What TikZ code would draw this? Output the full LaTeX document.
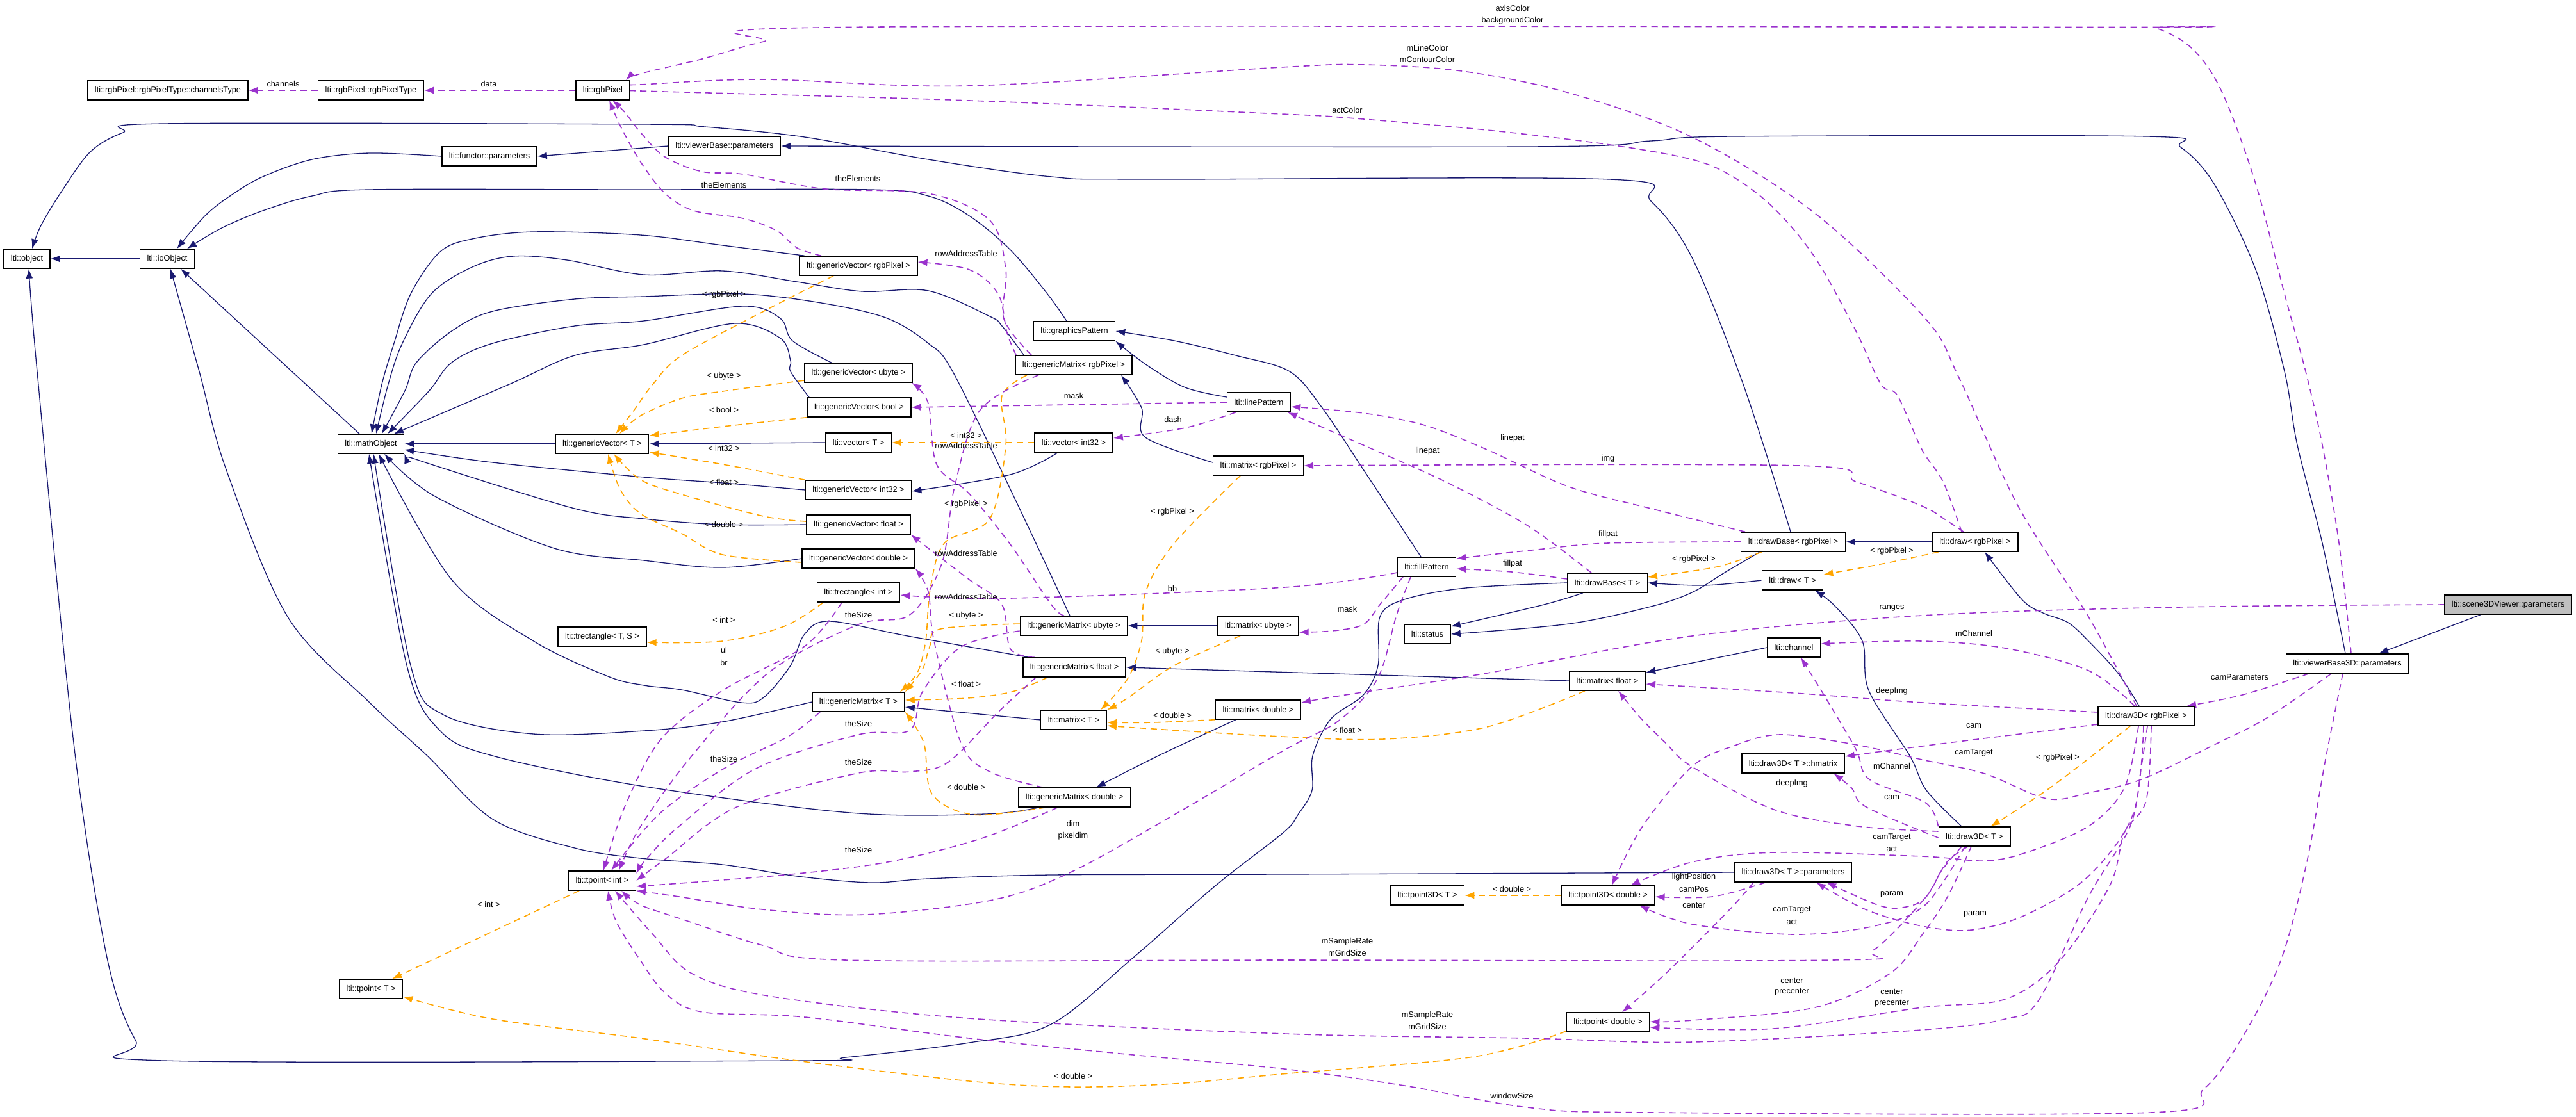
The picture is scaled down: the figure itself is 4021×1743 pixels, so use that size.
\documentclass[tikz,border=0pt]{standalone}
\usepackage{fontspec}
\setmainfont{Liberation Sans}
\usetikzlibrary{arrows.meta}
\definecolor{inhc}{HTML}{191970}
\definecolor{usec}{HTML}{9A32CD}
\definecolor{tplc}{HTML}{FFA500}
\newcommand\dxfont{\fontsize{12.7}{14}\selectfont}
\newcommand\sedge[2]{\draw[#1] plot[smooth,tension=0.55] coordinates {#2};}
\pgfdeclarelayer{edgelayer}
\pgfsetlayers{edgelayer,main}
\tikzset{
 cls/.style={draw=black,line width=1.4pt,fill=white,minimum height=30pt,inner xsep=11pt,inner ysep=0pt,font=\dxfont},
 lbl/.style={inner sep=0pt,font=\dxfont},
 inhe/.style={draw=inhc,line width=1.3pt,-{Latex[length=15pt,width=11pt]}},
 usee/.style={draw=usec,line width=1.6pt,dash pattern=on 10pt off 7pt,-{Latex[length=15pt,width=11pt]}},
 tple/.style={draw=tplc,line width=1.6pt,dash pattern=on 10pt off 7pt,-{Latex[length=15pt,width=11pt]}},
}
\begin{document}
\begin{tikzpicture}[x=1pt,y=-1pt]
\useasboundingbox (0,0) rectangle (4021,1743);
% ---------- nodes
\node[cls] (chan) at (262,141) {lti::rgbPixel::rgbPixelType::channelsType};
\node[cls] (rgbtype) at (579,141) {lti::rgbPixel::rgbPixelType};
\node[cls] (rgbpix) at (941,141) {lti::rgbPixel};
\node[cls] (funcpar) at (764,244) {lti::functor::parameters};
\node[cls] (object) at (42,404) {lti::object};
\node[cls] (ioobj) at (261,404) {lti::ioObject};
\node[cls] (vbpar) at (1131,228) {lti::viewerBase::parameters};
\node[cls] (gvrgb) at (1340,415) {lti::genericVector< rgbPixel >};
\node[cls] (gpat) at (1677,517) {lti::graphicsPattern};
\node[cls] (gmrgb) at (1676,570) {lti::genericMatrix< rgbPixel >};
\node[cls] (gvubyte) at (1340,582) {lti::genericVector< ubyte >};
\node[cls] (mathobj) at (579,693) {lti::mathObject};
\node[cls] (gvT) at (940,693) {lti::genericVector< T >};
\node[cls] (trectTS) at (940,994) {lti::trectangle< T, S >};
\node[cls] (gvbool) at (1341,636) {lti::genericVector< bool >};
\node[cls] (vecT) at (1340,691) {lti::vector< T >};
\node[cls] (vecint) at (1676,691) {lti::vector< int32 >};
\node[cls] (linepat) at (1965,628) {lti::linePattern};
\node[cls] (mrgb) at (1964,727) {lti::matrix< rgbPixel >};
\node[cls] (gvint) at (1340,765) {lti::genericVector< int32 >};
\node[cls] (gvfloat) at (1340,819) {lti::genericVector< float >};
\node[cls] (gvdouble) at (1340,872) {lti::genericVector< double >};
\node[cls] (trectint) at (1340,925) {lti::trectangle< int >};
\node[cls] (gmubyte) at (1676,977) {lti::genericMatrix< ubyte >};
\node[cls] (mubyte) at (1964,977) {lti::matrix< ubyte >};
\node[cls] (gmfloat) at (1677,1042) {lti::genericMatrix< float >};
\node[cls] (gmT) at (1340,1096) {lti::genericMatrix< T >};
\node[cls] (mT) at (1676,1124) {lti::matrix< T >};
\node[cls] (mdouble) at (1964,1108) {lti::matrix< double >};
\node[cls] (dbrgb) at (2799,846) {lti::drawBase< rgbPixel >};
\node[cls] (fillpat) at (2227,885) {lti::fillPattern};
\node[cls] (dbT) at (2509,910) {lti::drawBase< T >};
\node[cls] (drawT) at (2798,906) {lti::draw< T >};
\node[cls] (status) at (2228,990) {lti::status};
\node[cls] (channel) at (2800,1011) {lti::channel};
\node[cls] (mfloat) at (2509,1063) {lti::matrix< float >};
\node[cls] (drawrgb) at (3083,846) {lti::draw< rgbPixel >};
\node[cls,fill=gray!50] (scene) at (3915,944) {lti::scene3DViewer::parameters};
\node[cls] (vb3dpar) at (3664,1036) {lti::viewerBase3D::parameters};
\node[cls] (d3rgb) at (3350,1118) {lti::draw3D< rgbPixel >};
\node[cls] (tpint) at (940,1375) {lti::tpoint< int >};
\node[cls] (tpT) at (579,1544) {lti::tpoint< T >};
\node[cls] (gmdouble) at (1677,1245) {lti::genericMatrix< double >};
\node[cls] (hmatrix) at (2799,1192) {lti::draw3D< T >::hmatrix};
\node[cls] (d3par) at (2799,1362) {lti::draw3D< T >::parameters};
\node[cls] (tp3T) at (2228,1398) {lti::tpoint3D< T >};
\node[cls] (tp3d) at (2510,1398) {lti::tpoint3D< double >};
\node[cls] (tpdouble) at (2510,1596) {lti::tpoint< double >};
\node[cls] (d3T) at (3082,1306) {lti::draw3D< T >};
% ---------- edges
\begin{pgfonlayer}{edgelayer}
\fill[white] (0,0) rectangle (4021,1743);
% inheritance
\draw[inhe] (ioobj.west) -- (object.east);
\sedge{inhe}{(funcpar.west) (577,239) (487,249) (410,276) (359,306) (320,337) ([xshift=15pt]ioobj.north)}
\sedge{inhe}{([xshift=-12pt]gpat.north) (1635,459) (1577,390) (1513,337) (1449,306) (1359,296) (1000,296) (577,296) (487,306) (410,329) (346,356) ([xshift=31pt]ioobj.north)}
\sedge{inhe}{([xshift=-4pt]dbrgb.north) (2721,600) (2641,402) (2577,314) (2513,280) (1788,280) (1641,276) (1449,249) (1256,214) (1100,198) (1000,194) (256,193) (192,207) (141,237) (96,299) (64,352) ([xshift=8pt]object.north)}
\sedge{inhe}{(dbT.west) (2288,918) (2192,936) (2154,963) (2151,1039) (2128,1085) (2077,1123) (2049,1180) (2048,1234) (2026,1272) (2003,1300) (1897,1383) (1769,1495) (1641,1599) (1513,1628) (1320,1651) (1244,1656) (256,1656) (212,1625) (167,1495) (115,1160) (58,580) ([xshift=3pt]object.south)}
\sedge{inhe}{(d3par.west) (2000,1365) (1641,1366) (1449,1372) (1359,1378) (1244,1368) (1128,1350) (1000,1340) (897,1324) (769,1279) (667,1180) (577,1097) (449,963) (353,733) (311,580) ([xshift=5pt]ioobj.south)}
\draw[inhe] ([xshift=-18pt]mathobj.north) -- ([xshift=21pt]ioobj.south);
\draw[inhe] (vbpar.west) -- (funcpar.east);
\sedge{inhe}{([xshift=-3pt]vb3dpar.north) (3625,848) (3586,695) (3566,580) (3521,421) (3456,287) (3404,230) (3352,213) (2705,213) (2577,220) (2385,229) (vbpar.east)}
\draw[inhe] ([xshift=-43pt]scene.south) -- ([xshift=49pt]vb3dpar.north);
\draw[inhe] (drawrgb.west) -- (dbrgb.east);
\sedge{inhe}{([xshift=-11pt]d3rgb.north) (3306,1051) (3260,1001) (3228,972) (3189,957) (3156,936) ([xshift=15pt]drawrgb.south)}
\sedge{inhe}{(drawT.west) (2660,914) (dbT.east)}
\sedge{inhe}{([xshift=-20pt]d3T.north) (3007,1234) (2981,1180) (2917,1078) (2907,1001) (2865,947) ([xshift=35pt]drawT.south)}
\sedge{inhe}{([xshift=-38pt]dbT.south) (2410,944) ([yshift=12pt]status.east)}
\sedge{inhe}{([xshift=-52pt]dbrgb.south) (2692,894) (2641,925) (2577,947) (2449,974) (status.east)}
\draw[inhe] (channel.west) -- ([yshift=13pt]mfloat.east);
\draw[inhe] (mfloat.west) -- (gmfloat.east);
\draw[inhe] (mubyte.west) -- (gmubyte.east);
\sedge{inhe}{([yshift=5pt]mrgb.west) (1788,683) (1782,637) ([xshift=74pt]gmrgb.south)}
\draw[inhe] (mT.west) -- ([yshift=-8pt]gmT.east);
\sedge{inhe}{([xshift=-35pt]mdouble.south) (1808,1180) ([xshift=34pt]gmdouble.north)}
\sedge{inhe}{([yshift=8pt]linepat.west) (1850,605) (1790,570) (gpat.south east)}
\sedge{inhe}{([xshift=-9pt]fillpat.north) (2128,733) (2064,637) (2013,580) (1929,555) (1833,532) (gpat.east)}
\draw[inhe] (gvT.west) -- (mathobj.east);
\draw[inhe] (vecT.west) -- (gvT.east);
\sedge{inhe}{([xshift=-25pt]vecint.south) (1577,741) ([yshift=-2pt]gvint.east)}
\sedge{inhe}{([xshift=-84pt]gvrgb.north) (1128,383) (1000,367) (833,362) (737,373) (686,394) (641,459) (615,536) (596,600) ([xshift=1pt]mathobj.north)}
\sedge{inhe}{([xshift=-78pt]gmrgb.north) (1564,509) (1545,494) (1449,454) (1346,455) (1244,440) (1128,423) (1005,429) (885,406) (801,400) (737,417) (673,459) (628,536) (606,600) ([xshift=8pt]mathobj.north)}
\sedge{inhe}{([xshift=-6pt]gmubyte.north) (1580,770) (1487,580) (1449,536) (1385,497) (1288,474) (1160,459) (1005,463) (897,467) (769,486) (705,517) (650,566) (632,610) ([xshift=17pt]mathobj.north)}
\sedge{inhe}{([xshift=-42pt]gvubyte.north) (1237,532) (1218,497) (1160,478) (1005,501) (897,509) (769,536) (705,566) (670,610) ([xshift=26pt]mathobj.north)}
\sedge{inhe}{([xshift=-78pt]gvbool.north) (1234,580) (1234,563) (1218,528) (1147,505) (1005,538) (897,555) (795,600) ([xshift=36pt]mathobj.north)}
\sedge{inhe}{(gvint.west) (1128,754) (1005,745) (769,722) ([yshift=-9pt]mathobj.east)}
\sedge{inhe}{(gvfloat.west) (1128,819) (1005,810) (897,794) (673,725) (mathobj.south east)}
\sedge{inhe}{(gvdouble.west) (1128,886) (1005,875) (865,856) (679,775) ([xshift=21pt]mathobj.south)}
\sedge{inhe}{([xshift=-71pt]gmfloat.north) (1417,993) (1295,970) (1256,990) (1234,1039) (1192,1089) (1157,1097) (1064,1077) (1005,1070) (949,1056) (833,1001) (705,905) ([xshift=12pt]mathobj.south)}
\sedge{inhe}{(gmT.west) (1128,1127) (1005,1141) (833,1146) (692,1116) (641,1039) ([xshift=4pt]mathobj.south)}
\sedge{inhe}{([xshift=-55pt]gmdouble.south) (1538,1271) (1327,1269) (1000,1227) (769,1180) (686,1140) (635,1039) ([xshift=-3pt]mathobj.south)}
% template instances
\sedge{tple}{([xshift=-39pt]gvrgb.south) (1192,486) (1064,555) (1019,600) (990,640) ([xshift=21pt]gvT.north)}
\sedge{tple}{([yshift=-12pt]gvubyte.west) (1128,611) (1064,622) (1000,649) ([xshift=27pt]gvT.north)}
\sedge{tple}{(gvbool.south west) (1128,666) ([yshift=13pt]gvT.east)}
\sedge{tple}{(gvint.north west) (1128,725) ([yshift=-13pt]gvT.east)}
\sedge{tple}{([yshift=5pt]gvfloat.west) (1192,806) (1064,772) (1000,749) ([xshift=18pt]gvT.south)}
\sedge{tple}{([yshift=-6pt]gvdouble.west) (1128,866) (1064,833) (1000,802) (968,764) ([xshift=9pt]gvT.south)}
\draw[tple] (vecint.west) -- (vecT.east);
\sedge{tple}{([xshift=-55pt]trectint.south) (1224,978) (1128,1001) ([yshift=-9pt]trectTS.east)}
\draw[tple] ([xshift=-36pt]tpint.south) -- ([xshift=33pt]tpT.north);
\sedge{tple}{([yshift=-14pt]tpdouble.west) (2300,1650) (2000,1677) (1833,1692) (1673,1697) (1513,1688) (1244,1656) (1000,1621) (769,1591) ([yshift=-12pt]tpT.east)}
\draw[tple] (tp3d.west) -- (tp3T.east);
\sedge{tple}{([yshift=3pt]gmubyte.west) (1468,982) (1451,1010) (1440,1045) (gmT.north east)}
\sedge{tple}{([xshift=-73pt]gmrgb.south) (1564,618) (1570,695) (1545,810) (1474,848) (1452,920) (1445,1000) (1432,1050) ([xshift=-8pt]gmT.north east)}
\sedge{tple}{([xshift=-42pt]gmfloat.south) (1580,1080) (1510,1090) ([yshift=3pt]gmT.east)}
\sedge{tple}{([xshift=-45pt]gmdouble.south) (1520,1272) (1455,1240) (1442,1160) (gmT.south east)}
\sedge{tple}{([xshift=-28pt]mrgb.south) (1833,848) (1788,925) (1782,1000) (1760,1060) ([xshift=42pt]mT.north)}
\sedge{tple}{([xshift=-28pt]mubyte.south) (1833,1039) (1760,1090) ([xshift=52pt]mT.north)}
\sedge{tple}{(mdouble.south west) (1800,1128) ([yshift=-4pt]mT.east)}
\sedge{tple}{([xshift=-35pt]mfloat.south) (2321,1135) (2160,1154) (2000,1150) (1800,1138) ([yshift=-9pt]mT.east)}
\sedge{tple}{([xshift=-49pt]dbrgb.south) (2680,885) ([yshift=9pt]dbT.east)}
\sedge{tple}{([xshift=-57pt]drawrgb.south) (2940,880) ([yshift=9pt]drawT.east)}
\sedge{tple}{([xshift=-25pt]d3rgb.south) (3200,1230) ([xshift=25pt]d3T.north)}
% usage
\draw[usee] (rgbtype.west) -- (chan.east);
\draw[usee] (rgbpix.west) -- (rgbtype.east);
\sedge{usee}{([xshift=6pt]vb3dpar.north) (3651,848) (3625,695) (3599,580) (3566,459) (3521,287) (3469,145) (3423,77) (3365,44) (3300,42.5) (1320,42.5) (1192,65) (1096,92) (1000,115) ([xshift=36pt]rgbpix.north)}
\sedge{usee}{([xshift=-15pt]d3rgb.north) (3260,963) (3150,790) (3058,590) (3005,497) (2833,333) (2641,214) (2449,145) (2282,111) (2128,101) (2000,105) (1513,134) (1192,124) (1000,132) ([yshift=9pt]rgbpix.east)}
\sedge{usee}{([xshift=-21pt]drawrgb.north) (3033,752) (3000,702) (2962,618) (2936,600) (2897,517) (2833,402) (2769,325) (2705,276) (2641,249) (2513,226) (2321,203) (2103,184) (2000,178) (1513,157) (1000,142) (rgbpix.east)}
\sedge{usee}{([xshift=-58pt]gvrgb.north) (1244,387) (1212,360) (1160,341) (1083,329) (1038,302) (1000,253) (970,200) ([xshift=10pt]rgbpix.south)}
\sedge{usee}{([xshift=-66pt]gmrgb.north) (1567,498) (1570,421) (1545,344) (1449,302) (1288,295) (1160,272) (1096,268) (1038,245) (1000,207) (975,175) ([xshift=15pt]rgbpix.south)}
\sedge{usee}{([xshift=-90pt]gmrgb.north) (1572,520) (1558,459) (1513,421) ([yshift=6pt]gvrgb.east)}
\sedge{usee}{([xshift=-15pt]gmubyte.north) (1641,944) (1577,850) (1513,771) (1462,725) (1449,630) ([xshift=83pt]gvubyte.south)}
\sedge{usee}{([xshift=-62pt]gmfloat.north) (1577,1013) (1564,944) (1513,905) (1449,856) (gvfloat.south east)}
\sedge{usee}{([xshift=-49pt]gmdouble.north) (1545,1205) (1500,1160) (1458,1001) (1449,924) (gvdouble.south east)}
\draw[usee] (linepat.west) -- (gvbool.east);
\sedge{usee}{([xshift=-36pt]linepat.south) (1850,668) ([yshift=7pt]vecint.east)}
\sedge{usee}{([xshift=-37pt]fillpat.south) (2154,944) (2128,975) (2080,985) ([yshift=-10pt]mubyte.east)}
\sedge{usee}{([yshift=6pt]dbT.west) (2360,893) ([yshift=-3pt]fillpat.east)}
\sedge{usee}{(dbrgb.west) (2510,848) (2400,858) ([yshift=13pt]fillpat.east)}
\sedge{usee}{([xshift=-25pt]dbT.north) (2385,821) (2256,752) (2128,695) ([xshift=45pt]linepat.south)}
\sedge{usee}{([xshift=-75pt]dbrgb.north) (2577,794) (2449,760) (2321,702) (2224,664) (2128,645) ([yshift=-7pt]linepat.east)}
\sedge{usee}{([xshift=-18pt]drawrgb.north) (3039,813) (3000,790) (2897,752) (2808,727) (mrgb.east)}
\sedge{usee}{([yshift=-9pt]fillpat.west) (2005,917) (1577,934) ([yshift=-4pt]trectint.east)}
\sedge{usee}{([xshift=-26pt]trectint.south) (1256,1009) (1128,1078) (1032,1154) (975,1260) ([xshift=2pt]tpint.north)}
\sedge{usee}{([xshift=-60pt]gmT.south) (1230,1150) (1130,1200) (1030,1270) ([xshift=14pt]tpint.north)}
\sedge{usee}{([xshift=-55pt]gmrgb.south) (1530,640) (1490,760) (1470,880) (1420,960) (1340,975) (1200,1050) (1080,1180) (1000,1290) ([xshift=26pt]tpint.north)}
\sedge{usee}{([yshift=-8pt]gmubyte.west) (1500,1010) (1440,1080) (1420,1140) (1340,1147) (1180,1200) (1060,1290) (1010,1340) ([yshift=11pt]tpint.east)}
\sedge{usee}{([xshift=-60pt]gmfloat.south) (1560,1110) (1480,1190) (1420,1205) (1340,1207) (1150,1260) (1040,1340) (tpint.east)}
\sedge{usee}{([xshift=-26pt]gmdouble.south) (1532,1309) (1385,1346) (1224,1366) ([yshift=-9pt]tpint.east)}
\sedge{usee}{([xshift=-25pt]fillpat.south) (2180,960) (2150,1060) (2090,1125) (2005,1171) (1833,1272) (1673,1361) (1550,1405) (1351,1428) (1191,1420) (1060,1400) (tpint.south east)}
\sedge{usee}{(scene.west) (3400,948) (3000,961) (2641,993) (2321,1051) (2100,1085) ([yshift=11pt]mdouble.east)}
\sedge{usee}{([xshift=-18pt]d3rgb.north) (3260,1047) (3130,1012) (3000,1001) ([yshift=6pt]channel.east)}
\sedge{usee}{(d3T.north west) (3005,1253) (2918,1217) (2897,1170) (2850,1090) ([xshift=11pt]channel.south)}
\sedge{usee}{([yshift=6pt]d3rgb.west) (3000,1097) (2800,1082) ([yshift=-5pt]mfloat.east)}
\sedge{usee}{([yshift=8pt]d3T.west) (2900,1290) (2769,1264) (2641,1197) (2600,1160) (2560,1120) ([xshift=17pt]mfloat.south)}
\sedge{usee}{([yshift=-13pt]d3rgb.west) (3000,1165) ([yshift=11pt]hmatrix.east)}
\sedge{usee}{([yshift=-2pt]d3T.west) (2913,1260) (2890,1230) ([xshift=63pt]hmatrix.south)}
\sedge{usee}{([xshift=-12pt]d3rgb.south) (3316,1230) (3260,1290) (3163,1331) (3098,1344) (3000,1337) (2769,1331) (2641,1346) ([xshift=35pt]tp3d.north)}
\sedge{usee}{([xshift=-25pt]vb3dpar.south) (3540,1120) (3462,1160) (3345,1216) (3260,1238) (3195,1247) (3098,1208) (3000,1186) (2893,1162) (2778,1147) (2705,1165) (2641,1197) (2564,1290) ([xshift=6pt]tp3d.north)}
\sedge{usee}{([xshift=-7pt]vb3dpar.south) (3631,1180) (3600,1350) (3560,1500) (3500,1620) (3440,1700) (3358,1737) (2577,1737) (2384,1729) (2192,1695) (2005,1669) (1769,1647) (1513,1621) (1256,1588) (1096,1580) (1038,1550) (1000,1500) (962,1439) ([xshift=9pt]tpint.south)}
\sedge{usee}{([xshift=-60pt]vb3dpar.south) (3500,1085) ([xshift=63pt]d3rgb.north)}
\sedge{usee}{([xshift=-20pt]d3T.south) (3030,1360) (3005,1402) (2925,1483) (2861,1499) (2005,1499) (1319,1499) (1191,1476) (1064,1435) (1000,1413) ([xshift=30pt]tpint.south)}
\sedge{usee}{([xshift=2pt]d3rgb.south) (3342,1200) (3325,1290) (3260,1400) (3182,1562) (3130,1591) (3000,1608) (2641,1627) (2384,1621) (2005,1614) (1513,1590) (1200,1555) (1080,1520) (1020,1460) ([xshift=20pt]tpint.south)}
\sedge{usee}{([xshift=-10pt]d3T.south) (3039,1346) (3005,1402) (2969,1417) (2931,1413) ([xshift=52pt]d3par.south)}
\sedge{usee}{([xshift=-4pt]d3rgb.south) (3330,1270) (3260,1368) (3163,1428) (3078,1452) (3000,1446) (2912,1420) ([xshift=36pt]d3par.south)}
\sedge{usee}{([xshift=-43pt]d3par.south) (2673,1400) ([yshift=-2pt]tp3d.east)}
\sedge{usee}{([xshift=8pt]d3rgb.south) (3350,1250) (3316,1300) (3293,1383) (3215,1500) (3130,1560) (3000,1573) (2769,1606) ([yshift=-8pt]tpdouble.east)}
\sedge{usee}{([xshift=-5pt]d3T.south) (3040,1400) (3000,1460) (2950,1520) (2833,1573) (2641,1593) ([yshift=1pt]tpdouble.east)}
\sedge{usee}{([xshift=-62pt]d3par.south) (2700,1420) (2600,1520) ([xshift=22pt]tpdouble.north)}
\sedge{usee}{([xshift=-15pt]d3T.south) (3005,1413) (2925,1446) (2800,1459) (2641,1443) ([xshift=49pt]tp3d.south)}
\end{pgfonlayer}
% ---------- labels
\node[lbl] (l01) at (442,131) {channels};
\node[lbl] (l02) at (763,131) {data};
\node[lbl] (l03) at (2361,13) {axisColor};
\node[lbl] (l04) at (2361,32) {backgroundColor};
\node[lbl] (l05) at (2228,75) {mLineColor};
\node[lbl] (l06) at (2228,93) {mContourColor};
\node[lbl] (l07) at (2103,172) {actColor};
\node[lbl] (l08) at (1339,279) {theElements};
\node[lbl] (l09) at (1130,289) {theElements};
\node[lbl] (l10) at (1508,396) {rowAddressTable};
\node[lbl] (l11) at (1130,460) {< rgbPixel >};
\node[lbl] (l12) at (1130,587) {< ubyte >};
\node[lbl] (l13) at (1676,618) {mask};
\node[lbl] (l14) at (1130,640) {< bool >};
\node[lbl] (l15) at (1831,655) {dash};
\node[lbl] (l16) at (1508,680) {< int32 >};
\node[lbl] (l17) at (1508,696) {rowAddressTable};
\node[lbl] (l18) at (1130,700) {< int32 >};
\node[lbl] (l19) at (2361,684) {linepat};
\node[lbl] (l20) at (2228,704) {linepat};
\node[lbl] (l21) at (2510,716) {img};
\node[lbl] (l22) at (1130,753) {< float >};
\node[lbl] (l23) at (1508,787) {< rgbPixel >};
\node[lbl] (l24) at (1830,799) {< rgbPixel >};
\node[lbl] (l25) at (1130,819) {< double >};
\node[lbl] (l26) at (2510,834) {fillpat};
\node[lbl] (l27) at (2953,860) {< rgbPixel >};
\node[lbl] (l28) at (1508,864) {rowAddressTable};
\node[lbl] (l29) at (2644,873) {< rgbPixel >};
\node[lbl] (l30) at (2361,880) {fillpat};
\node[lbl] (l31) at (1830,919) {bb};
\node[lbl] (l32) at (1508,932) {rowAddressTable};
\node[lbl] (l33) at (2953,949) {ranges};
\node[lbl] (l34) at (2103,951) {mask};
\node[lbl] (l35) at (1340,960) {theSize};
\node[lbl] (l36) at (1508,961) {< ubyte >};
\node[lbl] (l37) at (1130,968) {< int >};
\node[lbl] (l38) at (3081,989) {mChannel};
\node[lbl] (l39) at (1130,1015) {ul};
\node[lbl] (l40) at (1130,1035) {br};
\node[lbl] (l41) at (1830,1017) {< ubyte >};
\node[lbl] (l42) at (3496,1057) {camParameters};
\node[lbl] (l43) at (1508,1068) {< float >};
\node[lbl] (l44) at (2953,1079) {deepImg};
\node[lbl] (l45) at (1830,1117) {< double >};
\node[lbl] (l46) at (1340,1130) {theSize};
\node[lbl] (l47) at (3081,1133) {cam};
\node[lbl] (l48) at (2103,1140) {< float >};
\node[lbl] (l49) at (3081,1175) {camTarget};
\node[lbl] (l50) at (3212,1183) {< rgbPixel >};
\node[lbl] (l51) at (1130,1185) {theSize};
\node[lbl] (l52) at (1340,1190) {theSize};
\node[lbl] (l53) at (2953,1196) {mChannel};
\node[lbl] (l54) at (2797,1223) {deepImg};
\node[lbl] (l55) at (1508,1229) {< double >};
\node[lbl] (l56) at (2953,1245) {cam};
\node[lbl] (l57) at (1675,1286) {dim};
\node[lbl] (l58) at (1675,1305) {pixeldim};
\node[lbl] (l59) at (2953,1307) {camTarget};
\node[lbl] (l60) at (2953,1325) {act};
\node[lbl] (l61) at (1340,1327) {theSize};
\node[lbl] (l62) at (2644,1369) {lightPosition};
\node[lbl] (l63) at (2644,1388) {camPos};
\node[lbl] (l64) at (2360,1388) {< double >};
\node[lbl] (l65) at (2953,1396) {param};
\node[lbl] (l66) at (763,1412) {< int >};
\node[lbl] (l67) at (2644,1413) {center};
\node[lbl] (l68) at (2797,1420) {camTarget};
\node[lbl] (l69) at (3083,1427) {param};
\node[lbl] (l70) at (2797,1439) {act};
\node[lbl] (l71) at (2103,1470) {mSampleRate};
\node[lbl] (l72) at (2103,1488) {mGridSize};
\node[lbl] (l73) at (2797,1531) {center};
\node[lbl] (l74) at (2797,1549) {precenter};
\node[lbl] (l75) at (2953,1548) {center};
\node[lbl] (l76) at (2953,1567) {precenter};
\node[lbl] (l77) at (2228,1585) {mSampleRate};
\node[lbl] (l78) at (2228,1603) {mGridSize};
\node[lbl] (l79) at (1675,1680) {< double >};
\node[lbl] (l80) at (2360,1711) {windowSize};
\end{tikzpicture}
\end{document}
